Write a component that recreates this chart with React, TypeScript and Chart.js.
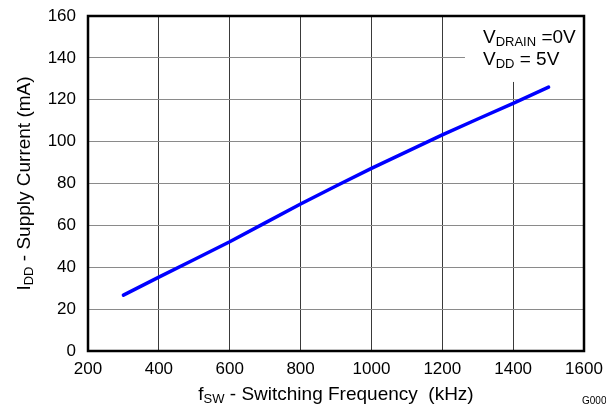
import React, { useEffect, useRef } from "react";
import { Chart, registerables } from "chart.js";

Chart.register(...registerables);

// ---- Data ----
const switchingFrequencyKHz = [300, 400, 500, 600, 700, 800, 900, 1000, 1100, 1200, 1300, 1400, 1500];
const supplyCurrentMA = [26.7, 35.3, 43.7, 52.2, 61.2, 70.2, 78.8, 87.2, 95.2, 103.2, 110.8, 118.3, 126.0];

const xMin = 200;
const xMax = 1600;
const xStep = 200;
const yMin = 0;
const yMax = 160;
const yStep = 20;

const FONT = "'Liberation Sans', Arial, Helvetica, sans-serif";

type Part = { text: string; sub?: boolean };

function drawRich(
  ctx: CanvasRenderingContext2D,
  parts: Part[],
  x: number,
  y: number,
  align: "left" | "center",
  mainSize: number,
  subSize: number,
  subOffset: number
) {
  const widths = parts.map((p) => {
    ctx.font = `${p.sub ? subSize : mainSize}px ${FONT}`;
    return ctx.measureText(p.text).width;
  });
  const total = widths.reduce((a, b) => a + b, 0);
  let cx = align === "center" ? x - total / 2 : x;
  ctx.textAlign = "left";
  ctx.textBaseline = "alphabetic";
  parts.forEach((p, i) => {
    ctx.font = `${p.sub ? subSize : mainSize}px ${FONT}`;
    ctx.fillText(p.text, cx, y + (p.sub ? subOffset : 0));
    cx += widths[i];
  });
}

const decorPlugin = {
  id: "decor",
  beforeDatasetsDraw(chart: any) {
    const { ctx, chartArea } = chart;
    const xs = chart.scales.x;
    const ys = chart.scales.y;
    // white legend box covering gridlines in upper right
    const bx = xs.getPixelForValue(1264);
    const by = ys.getPixelForValue(128.5);
    ctx.save();
    ctx.fillStyle = "#ffffff";
    ctx.fillRect(bx, chartArea.top, chartArea.right - bx, by - chartArea.top);
    ctx.restore();
  },
  afterDraw(chart: any) {
    const { ctx, chartArea } = chart;
    ctx.save();
    // frame
    ctx.strokeStyle = "#000000";
    ctx.lineWidth = 2.5;
    ctx.strokeRect(chartArea.left, chartArea.top, chartArea.right - chartArea.left, chartArea.bottom - chartArea.top);

    ctx.fillStyle = "#000000";
    // annotation
    drawRich(ctx, [{ text: "V" }, { text: "DRAIN", sub: true }, { text: " =0V" }], 483, 42.5, "left", 19, 13, 3);
    drawRich(ctx, [{ text: "V" }, { text: "DD", sub: true }, { text: " = 5V" }], 483, 64.5, "left", 19, 13, 3);

    // x-axis title
    const cxMid = (chartArea.left + chartArea.right) / 2;
    drawRich(
      ctx,
      [{ text: "f" }, { text: "SW", sub: true }, { text: " - Switching Frequency  (kHz)" }],
      cxMid,
      400,
      "center",
      19,
      13,
      3
    );

    // y-axis title (rotated)
    const cyMid = (chartArea.top + chartArea.bottom) / 2;
    ctx.save();
    ctx.translate(30, cyMid);
    ctx.rotate(-Math.PI / 2);
    drawRich(ctx, [{ text: "I" }, { text: "DD", sub: true }, { text: " - Supply Current (mA)" }], 0, 0, "center", 19, 13, 3);
    ctx.restore();

    // figure id
    ctx.font = `10px ${FONT}`;
    ctx.textAlign = "left";
    ctx.textBaseline = "alphabetic";
    ctx.fillText("G000", 582, 404);
    ctx.restore();
  },
};

export default function App() {
  const canvasRef = useRef<HTMLCanvasElement | null>(null);

  useEffect(() => {
    if (!canvasRef.current) return;
    const chart = new Chart(canvasRef.current, {
      type: "line",
      data: {
        datasets: [
          {
            data: switchingFrequencyKHz.map((f, i) => ({ x: f, y: supplyCurrentMA[i] })),
            borderColor: "#0000ff",
            borderWidth: 3.5,
            pointRadius: 0,
            tension: 0,
            fill: false,
            borderCapStyle: "round",
            borderJoinStyle: "round",
          },
        ],
      },
      options: {
        animation: false,
        responsive: true,
        maintainAspectRatio: false,
        devicePixelRatio: 1,
        layout: { padding: { left: 0, top: 16, right: 22, bottom: 0 } },
        plugins: {
          legend: { display: false },
          tooltip: { enabled: false },
          title: { display: false },
        },
        scales: {
          x: {
            type: "linear",
            min: xMin,
            max: xMax,
            afterFit: (scale: any) => {
              scale.height = 59;
              scale.paddingLeft = 0;
              scale.paddingRight = 0;
            },
            afterBuildTicks: (scale: any) => {
              const t = [];
              for (let v = xMin; v <= xMax; v += xStep) t.push({ value: v });
              scale.ticks = t;
            },
            ticks: {
              color: "#000000",
              font: { family: FONT, size: 17 },
              padding: 8,
              maxRotation: 0,
              autoSkip: false,
              callback: (v: any) => String(v),
            },
            grid: { color: "#3a3a3a", lineWidth: 1, drawTicks: false },
            border: { display: false },
          },
          y: {
            type: "linear",
            min: yMin,
            max: yMax,
            afterFit: (scale: any) => {
              scale.width = 88;
              scale.paddingTop = 0;
              scale.paddingBottom = 0;
            },
            afterBuildTicks: (scale: any) => {
              const t = [];
              for (let v = yMin; v <= yMax; v += yStep) t.push({ value: v });
              scale.ticks = t;
            },
            ticks: {
              color: "#000000",
              font: { family: FONT, size: 17 },
              padding: 12,
              autoSkip: false,
              callback: (v: any) => String(v),
            },
            grid: { color: "#8a8a8a", lineWidth: 1, drawTicks: false },
            border: { display: false },
          },
        },
      },
      plugins: [decorPlugin],
    } as any);
    return () => chart.destroy();
  }, []);

  return (
    <div style={{ position: "fixed", left: 0, top: 0, width: 606, height: 410, background: "#ffffff" }}>
      <canvas ref={canvasRef} />
    </div>
  );
}
